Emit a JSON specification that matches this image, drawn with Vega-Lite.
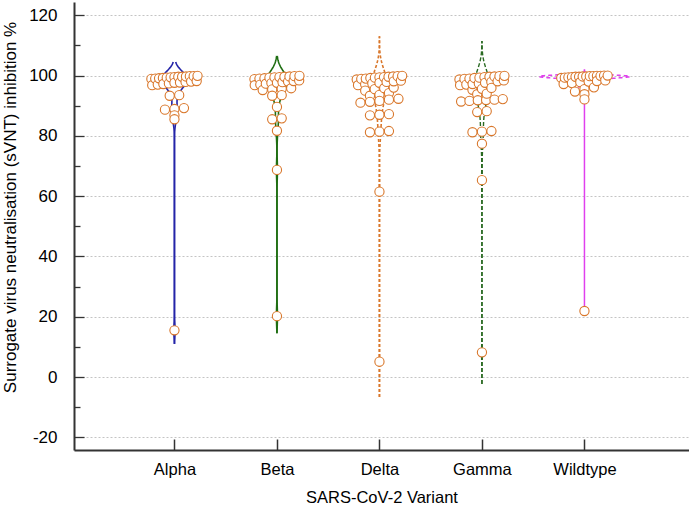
{
  "$schema": "https://vega.github.io/schema/vega-lite/v6.json",
  "width": 615,
  "height": 448,
  "autosize": {"type": "none"},
  "padding": {"left": 74, "top": 2, "right": 0, "bottom": 57},
  "background": "white",
  "config": {"view": {"stroke": null}, "font": "Liberation Sans"},
  "datasets": {
    "pts": [
      {"variant": "Alpha", "value": 99.9}, {"variant": "Alpha", "value": 99.8}, {"variant": "Alpha", "value": 99.8}, {"variant": "Alpha", "value": 99.7}, {"variant": "Alpha", "value": 99.6}, {"variant": "Alpha", "value": 99.6}, {"variant": "Alpha", "value": 99.5}, {"variant": "Alpha", "value": 99.4}, {"variant": "Alpha", "value": 99.3}, {"variant": "Alpha", "value": 99.2}, {"variant": "Alpha", "value": 99.1}, {"variant": "Alpha", "value": 99.0}, {"variant": "Alpha", "value": 98.9},
      {"variant": "Alpha", "value": 98.2}, {"variant": "Alpha", "value": 98.0}, {"variant": "Alpha", "value": 97.9}, {"variant": "Alpha", "value": 97.7}, {"variant": "Alpha", "value": 97.6}, {"variant": "Alpha", "value": 97.4}, {"variant": "Alpha", "value": 97.2}, {"variant": "Alpha", "value": 97.0}, {"variant": "Alpha", "value": 96.8},
      {"variant": "Alpha", "value": 93.5}, {"variant": "Alpha", "value": 93.3}, {"variant": "Alpha", "value": 89.2}, {"variant": "Alpha", "value": 88.9}, {"variant": "Alpha", "value": 88.7}, {"variant": "Alpha", "value": 86.8}, {"variant": "Alpha", "value": 85.5}, {"variant": "Alpha", "value": 15.5},

      {"variant": "Beta", "value": 99.9}, {"variant": "Beta", "value": 99.8}, {"variant": "Beta", "value": 99.7}, {"variant": "Beta", "value": 99.6}, {"variant": "Beta", "value": 99.5}, {"variant": "Beta", "value": 99.4}, {"variant": "Beta", "value": 99.3}, {"variant": "Beta", "value": 99.1}, {"variant": "Beta", "value": 99.0}, {"variant": "Beta", "value": 98.8},
      {"variant": "Beta", "value": 98.4}, {"variant": "Beta", "value": 98.2}, {"variant": "Beta", "value": 98.0}, {"variant": "Beta", "value": 97.8}, {"variant": "Beta", "value": 97.6}, {"variant": "Beta", "value": 97.5}, {"variant": "Beta", "value": 97.3}, {"variant": "Beta", "value": 97.0}, {"variant": "Beta", "value": 96.8},
      {"variant": "Beta", "value": 95.8}, {"variant": "Beta", "value": 95.6}, {"variant": "Beta", "value": 95.4}, {"variant": "Beta", "value": 95.2}, {"variant": "Beta", "value": 93.5}, {"variant": "Beta", "value": 93.3}, {"variant": "Beta", "value": 89.6}, {"variant": "Beta", "value": 85.8}, {"variant": "Beta", "value": 85.5}, {"variant": "Beta", "value": 81.7}, {"variant": "Beta", "value": 68.7}, {"variant": "Beta", "value": 20.2},

      {"variant": "Delta", "value": 99.9}, {"variant": "Delta", "value": 99.8}, {"variant": "Delta", "value": 99.7}, {"variant": "Delta", "value": 99.6}, {"variant": "Delta", "value": 99.5}, {"variant": "Delta", "value": 99.4}, {"variant": "Delta", "value": 99.3}, {"variant": "Delta", "value": 99.2}, {"variant": "Delta", "value": 99.0}, {"variant": "Delta", "value": 98.9}, {"variant": "Delta", "value": 98.7},
      {"variant": "Delta", "value": 98.3}, {"variant": "Delta", "value": 98.1}, {"variant": "Delta", "value": 97.9}, {"variant": "Delta", "value": 97.6}, {"variant": "Delta", "value": 97.4}, {"variant": "Delta", "value": 97.1}, {"variant": "Delta", "value": 96.8},
      {"variant": "Delta", "value": 96.0}, {"variant": "Delta", "value": 95.8}, {"variant": "Delta", "value": 95.5}, {"variant": "Delta", "value": 95.0}, {"variant": "Delta", "value": 94.2}, {"variant": "Delta", "value": 93.6}, {"variant": "Delta", "value": 93.3},
      {"variant": "Delta", "value": 92.3}, {"variant": "Delta", "value": 92.0}, {"variant": "Delta", "value": 91.6}, {"variant": "Delta", "value": 91.3}, {"variant": "Delta", "value": 91.0}, {"variant": "Delta", "value": 87.2}, {"variant": "Delta", "value": 87.0}, {"variant": "Delta", "value": 86.8}, {"variant": "Delta", "value": 81.6}, {"variant": "Delta", "value": 81.4}, {"variant": "Delta", "value": 81.2}, {"variant": "Delta", "value": 61.5}, {"variant": "Delta", "value": 5.1},

      {"variant": "Gamma", "value": 99.9}, {"variant": "Gamma", "value": 99.8}, {"variant": "Gamma", "value": 99.7}, {"variant": "Gamma", "value": 99.6}, {"variant": "Gamma", "value": 99.5}, {"variant": "Gamma", "value": 99.3}, {"variant": "Gamma", "value": 99.2}, {"variant": "Gamma", "value": 99.0}, {"variant": "Gamma", "value": 98.9}, {"variant": "Gamma", "value": 98.7},
      {"variant": "Gamma", "value": 98.4}, {"variant": "Gamma", "value": 98.1}, {"variant": "Gamma", "value": 97.9}, {"variant": "Gamma", "value": 97.6}, {"variant": "Gamma", "value": 97.4}, {"variant": "Gamma", "value": 97.2}, {"variant": "Gamma", "value": 97.0}, {"variant": "Gamma", "value": 96.8},
      {"variant": "Gamma", "value": 95.9}, {"variant": "Gamma", "value": 95.6}, {"variant": "Gamma", "value": 95.3}, {"variant": "Gamma", "value": 94.0}, {"variant": "Gamma", "value": 93.8},
      {"variant": "Gamma", "value": 92.2}, {"variant": "Gamma", "value": 92.0}, {"variant": "Gamma", "value": 91.9}, {"variant": "Gamma", "value": 91.8}, {"variant": "Gamma", "value": 91.6}, {"variant": "Gamma", "value": 91.4}, {"variant": "Gamma", "value": 88.2}, {"variant": "Gamma", "value": 87.9}, {"variant": "Gamma", "value": 81.6}, {"variant": "Gamma", "value": 81.4}, {"variant": "Gamma", "value": 81.2}, {"variant": "Gamma", "value": 77.4}, {"variant": "Gamma", "value": 65.3}, {"variant": "Gamma", "value": 8.2},

      {"variant": "Wildtype", "value": 100.0}, {"variant": "Wildtype", "value": 100.0}, {"variant": "Wildtype", "value": 99.9}, {"variant": "Wildtype", "value": 99.9}, {"variant": "Wildtype", "value": 99.8}, {"variant": "Wildtype", "value": 99.8}, {"variant": "Wildtype", "value": 99.7}, {"variant": "Wildtype", "value": 99.7}, {"variant": "Wildtype", "value": 99.6}, {"variant": "Wildtype", "value": 99.6}, {"variant": "Wildtype", "value": 99.5}, {"variant": "Wildtype", "value": 99.4}, {"variant": "Wildtype", "value": 99.3}, {"variant": "Wildtype", "value": 99.2},
      {"variant": "Wildtype", "value": 98.4}, {"variant": "Wildtype", "value": 98.2}, {"variant": "Wildtype", "value": 98.0}, {"variant": "Wildtype", "value": 97.8}, {"variant": "Wildtype", "value": 97.5}, {"variant": "Wildtype", "value": 97.2},
      {"variant": "Wildtype", "value": 96.1}, {"variant": "Wildtype", "value": 95.5}, {"variant": "Wildtype", "value": 94.7}, {"variant": "Wildtype", "value": 93.8}, {"variant": "Wildtype", "value": 92.1}, {"variant": "Wildtype", "value": 21.9}
    ]
  },
  "encoding": {
    "x": {
      "field": "variant",
      "type": "nominal",
      "scale": {"type": "point", "domain": ["Alpha", "Beta", "Delta", "Gamma", "Wildtype"], "padding": 1.146, "align": 0.49},
      "axis": {
        "title": "SARS-CoV-2 Variant",
        "labelAngle": 0,
        "labelFontSize": 16.5,
        "labelColor": "#000",
        "labelPadding": 22,
        "tickSize": -11,
        "tickColor": "#333",
        "tickWidth": 1.5,
        "domainColor": "#333",
        "domainWidth": 2,
        "titleFontSize": 16.5,
        "titleFontWeight": "normal",
        "titleColor": "#000",
        "titlePadding": 12,
        "grid": false
      }
    },
    "y": {
      "field": "value",
      "type": "quantitative",
      "scale": {"domain": [-24.2, 124.4], "nice": false, "zero": false},
      "axis": {
        "title": "Surrogate virus neutralisation (sVNT) inhibition %",
        "values": [-20, -10, 0, 10, 20, 30, 40, 50, 60, 70, 80, 90, 100, 110, 120],
        "labelExpr": "datum.value % 20 === 0 ? '' + datum.value : ''",
        "labelFontSize": 17,
        "labelColor": "#000",
        "labelPadding": 27,
        "tickSize": {"condition": {"test": "datum.value % 20 === 0", "value": -10}, "value": -6},
        "tickColor": "#333",
        "tickWidth": 1.3,
        "domainColor": "#333",
        "domainWidth": 2,
        "grid": true,
        "gridColor": "#c4c4c4",
        "gridDash": [2, 2],
        "gridOpacity": {"condition": {"test": "datum.value % 20 === 0", "value": 1}, "value": 0},
        "titleFontSize": 17,
        "titleFontWeight": "normal",
        "titleColor": "#000",
        "titlePadding": 9,
        "titleY": 205
      }
    }
  },
  "layer": [
    {
      "data": {"name": "pts"},
      "transform": [
        {"filter": "datum.variant === 'Alpha'"},
        {"density": "value", "groupby": ["variant"], "bandwidth": 2.5, "extent": [11, 104.5], "steps": 300},
        {"calculate": "datum.density * 118", "as": "w"},
        {"calculate": "-datum.density * 118", "as": "nw"},
        {"fold": ["w", "nw"], "as": ["side", "off"]}
      ],
      "mark": {"type": "line", "color": "#2424a8", "strokeWidth": 1.6},
      "encoding": {
        "xOffset": {"field": "off", "type": "quantitative", "scale": {"domain": [-100, 100], "range": [-100, 100]}},
        "detail": {"field": "side"},
        "order": {"field": "value", "type": "quantitative"}
      }
    },
    {
      "data": {"name": "pts"},
      "transform": [
        {"filter": "datum.variant === 'Beta'"},
        {"density": "value", "groupby": ["variant"], "bandwidth": 3, "extent": [14.5, 106.5], "steps": 300},
        {"calculate": "datum.density * 118", "as": "w"},
        {"calculate": "-datum.density * 118", "as": "nw"},
        {"fold": ["w", "nw"], "as": ["side", "off"]}
      ],
      "mark": {"type": "line", "color": "#1f6e12", "strokeWidth": 1.6},
      "encoding": {
        "xOffset": {"field": "off", "type": "quantitative", "scale": {"domain": [-100, 100], "range": [-100, 100]}},
        "detail": {"field": "side"},
        "order": {"field": "value", "type": "quantitative"}
      }
    },
    {
      "data": {"name": "pts"},
      "transform": [
        {"filter": "datum.variant === 'Delta'"},
        {"density": "value", "groupby": ["variant"], "bandwidth": 4, "extent": [-6.6, 113], "steps": 300},
        {"calculate": "datum.density * 118", "as": "w"},
        {"calculate": "-datum.density * 118", "as": "nw"},
        {"fold": ["w", "nw"], "as": ["side", "off"]}
      ],
      "mark": {"type": "line", "color": "#d9772b", "strokeWidth": 1.6, "strokeDash": [3, 2]},
      "encoding": {
        "xOffset": {"field": "off", "type": "quantitative", "scale": {"domain": [-100, 100], "range": [-100, 100]}},
        "detail": {"field": "side"},
        "order": {"field": "value", "type": "quantitative"}
      }
    },
    {
      "data": {"name": "pts"},
      "transform": [
        {"filter": "datum.variant === 'Gamma'"},
        {"density": "value", "groupby": ["variant"], "bandwidth": 4, "extent": [-2.3, 111.5], "steps": 300},
        {"calculate": "datum.density * 118", "as": "w"},
        {"calculate": "-datum.density * 118", "as": "nw"},
        {"fold": ["w", "nw"], "as": ["side", "off"]}
      ],
      "mark": {"type": "line", "color": "#2a6a22", "strokeWidth": 1.4, "strokeDash": [4, 2]},
      "encoding": {
        "xOffset": {"field": "off", "type": "quantitative", "scale": {"domain": [-100, 100], "range": [-100, 100]}},
        "detail": {"field": "side"},
        "order": {"field": "value", "type": "quantitative"}
      }
    },
    {
      "data": {"name": "pts"},
      "transform": [
        {"filter": "datum.variant === 'Wildtype'"},
        {"density": "value", "groupby": ["variant"], "bandwidth": 0.5, "extent": [96, 102], "steps": 300},
        {"calculate": "datum.density * 118", "as": "w"},
        {"calculate": "-datum.density * 118", "as": "nw"},
        {"fold": ["w", "nw"], "as": ["side", "off"]}
      ],
      "mark": {"type": "line", "color": "#e040ee", "strokeWidth": 1.5, "strokeDash": [4, 3]},
      "encoding": {
        "xOffset": {"field": "off", "type": "quantitative", "scale": {"domain": [-100, 100], "range": [-100, 100]}},
        "detail": {"field": "side"},
        "order": {"field": "value", "type": "quantitative"}
      }
    },
    {
      "data": {"values": [{"variant": "Wildtype", "value": 21.9, "hi": 98}]},
      "mark": {"type": "rule", "color": "#e040ee", "strokeWidth": 1.5},
      "encoding": {"y2": {"field": "hi"}}
    },
    {
      "data": {"name": "pts"},
      "transform": [
        {"bin": {"step": 2, "extent": [0.6, 102.6], "nice": false}, "field": "value", "as": "vb"},
        {"window": [{"op": "row_number", "as": "rk"}, {"op": "count", "as": "n"}], "groupby": ["variant", "vb"], "sort": [{"field": "value", "order": "ascending"}], "frame": [null, null]},
        {"calculate": "(datum.rk - (datum.n + 1) / 2) * min(9.5, 50 / datum.n)", "as": "off"}
      ],
      "mark": {"type": "point", "shape": "circle", "filled": true, "fill": "white", "stroke": "#d9772b", "strokeWidth": 1.1, "size": 85, "opacity": 1},
      "encoding": {
        "xOffset": {"field": "off", "type": "quantitative", "scale": {"domain": [-100, 100], "range": [-100, 100]}},
        "order": {"field": "off", "type": "quantitative"}
      }
    }
  ]
}
